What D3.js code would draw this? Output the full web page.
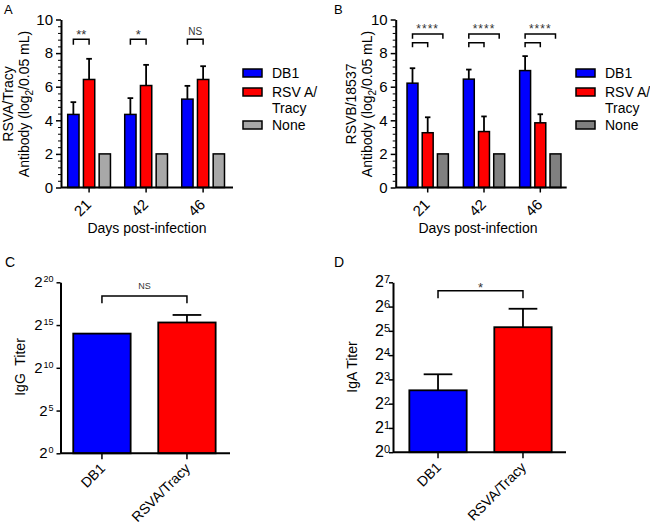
<!DOCTYPE html>
<html><head><meta charset="utf-8">
<script src="https://cdn.jsdelivr.net/npm/d3@7"></script>
<style>
body{margin:0;background:#fff}
svg{font-family:"Liberation Sans",Arial,Helvetica,sans-serif}
</style>
</head><body>
<svg id="c" width="650" height="529"></svg>
<script>
// ---------- DATA ----------
const days = ["21", "42", "46"];
const seriesKeys = ["DB1", "RSV", "None"];
const legendLabels = [["DB1"], ["RSV A/", "Tracy"], ["None"]];

const aDB1 = [4.35, 4.35, 5.26];
const aDB1Err = [0.73, 0.97, 0.79];
const aRSV = [6.43, 6.07, 6.43];
const aRSVErr = [1.23, 1.23, 0.79];
const aNone = [2, 2, 2];
const aSig = ["**", "*", "NS"];

const bDB1 = [6.21, 6.45, 6.96];
const bDB1Err = [0.89, 0.57, 0.86];
const bRSV = [3.26, 3.33, 3.85];
const bRSVErr = [0.92, 0.90, 0.51];
const bNone = [2, 2, 2];
const bSig = ["****", "****", "****"];

const abTicks = [0, 2, 4, 6, 8, 10];

const groups = ["DB1", "RSVA/Tracy"];
const igGExp = [14.0, 15.3];     // log2 titer
const igGErr = [0, 0.88];
const igAExp = [2.55, 5.15];
const igAErr = [0.66, 0.76];
const cTicks = [0, 5, 10, 15, 20];
const dTicks = [0, 1, 2, 3, 4, 5, 6, 7];
const cSig = "NS";
const dSig = "*";

// ---------- DRAW ----------
const svg = d3.select("#c");

function styleAxis(sel, fs) {
  sel.selectAll(".domain").attr("stroke", "#000").attr("stroke-width", 2);
  sel.selectAll(".tick line").attr("stroke", "#000").attr("stroke-width", 1.5);
  sel.selectAll(".tick text").attr("fill", "#000").style("font-size", fs + "px");
}

function groupedPanel(o) {
  const g = svg.append("g");
  const y = d3.scaleLinear().domain([0, 10]).range([187.5, 19.5]);
  const x0 = d3.scaleBand().domain(days).range(o.xr).paddingInner(o.pi).paddingOuter(0.1);
  const x1 = d3.scaleBand().domain(seriesKeys).range([0, x0.bandwidth()]).paddingInner(0.28);
  const bw = x1.bandwidth();
  const series = [
    {key: "DB1", vals: o.db1, errs: o.db1Err, color: "#0000ff"},
    {key: "RSV", vals: o.rsv, errs: o.rsvErr, color: "#ff0000"},
    {key: "None", vals: o.none, errs: null, color: o.grey}
  ];
  series.forEach(s => {
    g.selectAll(null).data(days).enter().append("rect")
      .attr("x", d => x0(d) + x1(s.key))
      .attr("y", (d, i) => y(s.vals[i]))
      .attr("width", bw)
      .attr("height", (d, i) => y(0) - y(s.vals[i]))
      .attr("fill", s.color).attr("stroke", "#000").attr("stroke-width", 1.5);
    if (s.errs) {
      days.forEach((d, i) => {
        const cx = x0(d) + x1(s.key) + bw / 2;
        const top = y(s.vals[i] + s.errs[i]);
        g.append("line").attr("x1", cx).attr("x2", cx).attr("y1", y(s.vals[i])).attr("y2", top)
          .attr("stroke", "#000").attr("stroke-width", 1.8);
        g.append("line").attr("x1", cx - bw / 4).attr("x2", cx + bw / 4).attr("y1", top).attr("y2", top)
          .attr("stroke", "#000").attr("stroke-width", 1.8);
      });
    }
  });
  const ya = g.append("g").attr("transform", `translate(${o.ax0},0)`)
    .call(d3.axisLeft(y).tickValues(abTicks).tickSize(5).tickSizeOuter(0).tickPadding(3));
  styleAxis(ya, 15);
  const minors = d3.range(0, 10.001, 0.4).filter(v => abTicks.indexOf(Math.round(v * 10) / 10) < 0);
  const ym = g.append("g").attr("transform", `translate(${o.ax0},0)`)
    .call(d3.axisLeft(y).tickValues(minors).tickSize(3).tickFormat(""));
  ym.select(".domain").remove();
  ym.selectAll(".tick line").attr("stroke", "#000").attr("stroke-width", 1);
  const xa = g.append("g").attr("transform", `translate(0,${y(0)})`)
    .call(d3.axisBottom(x0).tickSize(5).tickFormat(""));
  xa.select(".domain").remove();
  xa.selectAll(".tick line").attr("stroke", "#000").attr("stroke-width", 1.5);
  g.append("line").attr("x1", o.ax0).attr("x2", o.ax1).attr("y1", y(0)).attr("y2", y(0))
    .attr("stroke", "#000").attr("stroke-width", 2);
  days.forEach(d => {
    const cx = x0(d) + x0.bandwidth() / 2;
    g.append("text").attr("transform", `translate(${cx + 3},${y(0) + 18}) rotate(-45)`)
      .attr("text-anchor", "end").style("font-size", "15px").text(d);
  });
  g.append("text").attr("x", o.xTitleX).attr("y", 233).attr("text-anchor", "middle")
    .style("font-size", "14px").text("Days post-infection");
  const yt = g.append("g").attr("transform", `translate(${o.yTitleX},104) rotate(-90)`);
  yt.append("text").attr("x", 0).attr("y", 0).attr("text-anchor", "middle").style("font-size", "14px").text(o.yTitle1);
  const t2 = yt.append("text").attr("x", 0).attr("y", 16).attr("text-anchor", "middle").style("font-size", "14px");
  t2.append("tspan").text("Antibody (log");
  t2.append("tspan").attr("dy", 4).style("font-size", "10px").text("2");
  t2.append("tspan").attr("dy", -4).text("/0.05 mL)");
  if (o.type === "A") {
    days.forEach((d, i) => {
      const xa_ = x0(d) + x1("DB1") + bw / 2, xb = x0(d) + x1("RSV") + bw / 2;
      g.append("path").attr("d", `M${xa_},44.7V39.3H${xb}V44.7`).attr("fill", "none")
        .attr("stroke", "#000").attr("stroke-width", 1.5);
      const isNS = o.sig[i] === "NS";
      g.append("text").attr("x", (xa_ + xb) / 2).attr("y", isNS ? 35 : 38.5).attr("text-anchor", "middle")
        .attr("fill", "#333").style("font-size", isNS ? "10px" : "13px").text(o.sig[i]);
    });
  } else {
    days.forEach((d, i) => {
      const xa_ = x0(d) + x1("DB1") + bw / 2, xb = x0(d) + x1("RSV") + bw / 2, xc = x0(d) + x1("None") + bw / 2;
      g.append("path").attr("d", `M${xa_},38.7V34H${xc}V38.7`).attr("fill", "none")
        .attr("stroke", "#000").attr("stroke-width", 1.5);
      g.append("path").attr("d", `M${xa_},47.3V42.7H${xb}V47.3`).attr("fill", "none")
        .attr("stroke", "#000").attr("stroke-width", 1.5);
      g.append("text").attr("x", (xa_ + xc) / 2).attr("y", 32.5).attr("text-anchor", "middle")
        .attr("fill", "#333").style("font-size", "12px").style("letter-spacing", "1px").text(o.sig[i]);
    });
  }
  const colors = ["#0000ff", "#ff0000", o.grey];
  const cy = [73, 92, 125];
  seriesKeys.forEach((k, i) => {
    g.append("rect").attr("x", o.legX).attr("y", cy[i] - 4).attr("width", 19).attr("height", 8)
      .attr("fill", colors[i]).attr("stroke", "#000").attr("stroke-width", 1.5);
    legendLabels[i].forEach((t, j) => {
      g.append("text").attr("x", o.legX + 29).attr("y", cy[i] + 5 + j * 16)
        .style("font-size", "14px").text(t);
    });
  });
  svg.append("text").attr("x", o.letterX).attr("y", 14).style("font-size", "13px").text(o.letter);
}

groupedPanel({type: "A", letter: "A", letterX: 4, xr: [62, 230.2], pi: 0.25, ax0: 61, ax1: 233,
  db1: aDB1, db1Err: aDB1Err, rsv: aRSV, rsvErr: aRSVErr, none: aNone, sig: aSig,
  grey: "#a8a8a8", legX: 243, xTitleX: 147, yTitleX: 13, yTitle1: "RSVA/Tracy"});
groupedPanel({type: "B", letter: "B", letterX: 334, xr: [401.4, 566.6], pi: 0.266, ax0: 395.7, ax1: 566.7,
  db1: bDB1, db1Err: bDB1Err, rsv: bRSV, rsvErr: bRSVErr, none: bNone, sig: bSig,
  grey: "#808080", legX: 576, xTitleX: 478, yTitleX: 356, yTitle1: "RSVB/18537"});

function titerPanel(o) {
  const g = svg.append("g");
  const y = d3.scaleLinear().domain([0, o.max]).range(o.yr);
  const x = d3.scaleBand().domain(groups).range(o.xr).paddingInner(0.325).paddingOuter(o.po);
  const bw = x.bandwidth();
  const colors = ["#0000ff", "#ff0000"];
  groups.forEach((k, i) => {
    g.append("rect").attr("x", x(k)).attr("y", y(o.vals[i])).attr("width", bw)
      .attr("height", y(0) - y(o.vals[i])).attr("fill", colors[i]).attr("stroke", "#000").attr("stroke-width", 1.8);
    if (o.errs[i] > 0) {
      const cx = x(k) + bw / 2, top = y(o.vals[i] + o.errs[i]);
      g.append("line").attr("x1", cx).attr("x2", cx).attr("y1", y(o.vals[i])).attr("y2", top)
        .attr("stroke", "#000").attr("stroke-width", 1.8);
      g.append("line").attr("x1", cx - bw / 4).attr("x2", cx + bw / 4).attr("y1", top).attr("y2", top)
        .attr("stroke", "#000").attr("stroke-width", 1.8);
    }
  });
  const ya = g.append("g").attr("transform", `translate(${o.ax0},0)`)
    .call(d3.axisLeft(y).tickValues(o.ticks).tickSize(4).tickSizeOuter(0).tickFormat(""));
  styleAxis(ya, 14);
  o.ticks.forEach(v => {
    const t = g.append("text").attr("x", o.ax0 - o.lblPad).attr("y", y(v) + o.baseOff)
      .attr("text-anchor", "end").style("font-size", o.baseFs + "px");
    t.append("tspan").text("2");
    t.append("tspan").attr("dy", -o.supRise).attr("dx", o.supDx).style("font-size", o.supFs + "px").text(String(v));
  });
  const xa = g.append("g").attr("transform", `translate(0,${y(0)})`)
    .call(d3.axisBottom(x).tickSize(6).tickFormat(""));
  xa.select(".domain").remove();
  xa.selectAll(".tick line").attr("stroke", "#000").attr("stroke-width", 1.5);
  g.append("line").attr("x1", o.ax0).attr("x2", o.ax1).attr("y1", y(0)).attr("y2", y(0))
    .attr("stroke", "#000").attr("stroke-width", 2);
  groups.forEach(k => {
    const cx = x(k) + bw / 2;
    g.append("text").attr("transform", `translate(${cx + 4},${y(0) + 16}) rotate(-45)`)
      .attr("text-anchor", "end").style("font-size", "14px").text(k);
  });
  g.append("text").attr("transform", `translate(${o.yTitleX},367) rotate(-90)`)
    .attr("text-anchor", "middle").style("font-size", "14px").style("white-space", "pre")
    .attr("xml:space", "preserve").text(o.yTitle);
  const xa_ = x(groups[0]) + bw / 2, xb = x(groups[1]) + bw / 2;
  g.append("path").attr("d", `M${xa_},${o.brLeg}V${o.brTop}H${xb}V${o.brLeg}`).attr("fill", "none")
    .attr("stroke", "#000").attr("stroke-width", 1.5);
  g.append("text").attr("x", (xa_ + xb) / 2).attr("y", o.sigY).attr("text-anchor", "middle")
    .attr("fill", "#333").style("font-size", o.sigFs + "px").text(o.sig);
  svg.append("text").attr("x", o.letterX).attr("y", 267).style("font-size", "14px").text(o.letter);
}

titerPanel({letter: "C", letterX: 5, max: 20, yr: [453.3, 282.3], xr: [60.5, 228.4], po: 0.15,
  ax0: 60.5, ax1: 230, vals: igGExp, errs: igGErr, ticks: cTicks,
  lblPad: 7, baseOff: 5, baseFs: 15, supFs: 9, supRise: 5, supDx: 1,
  yTitle: "IgG  Titer", yTitleX: 25, brTop: 296, brLeg: 303.3, sig: cSig, sigY: 288.5, sigFs: 9});
titerPanel({letter: "D", letterX: 334, max: 7, yr: [452.2, 282.3], xr: [393.2, 567.8], po: 0.19,
  ax0: 393, ax1: 566, vals: igAExp, errs: igAErr, ticks: dTicks,
  lblPad: 3, baseOff: 5, baseFs: 16, supFs: 11, supRise: 4, supDx: 0,
  yTitle: "IgA Titer", yTitleX: 357, brTop: 290.7, brLeg: 298.3, sig: dSig, sigY: 292, sigFs: 13});
</script>
</body></html>
